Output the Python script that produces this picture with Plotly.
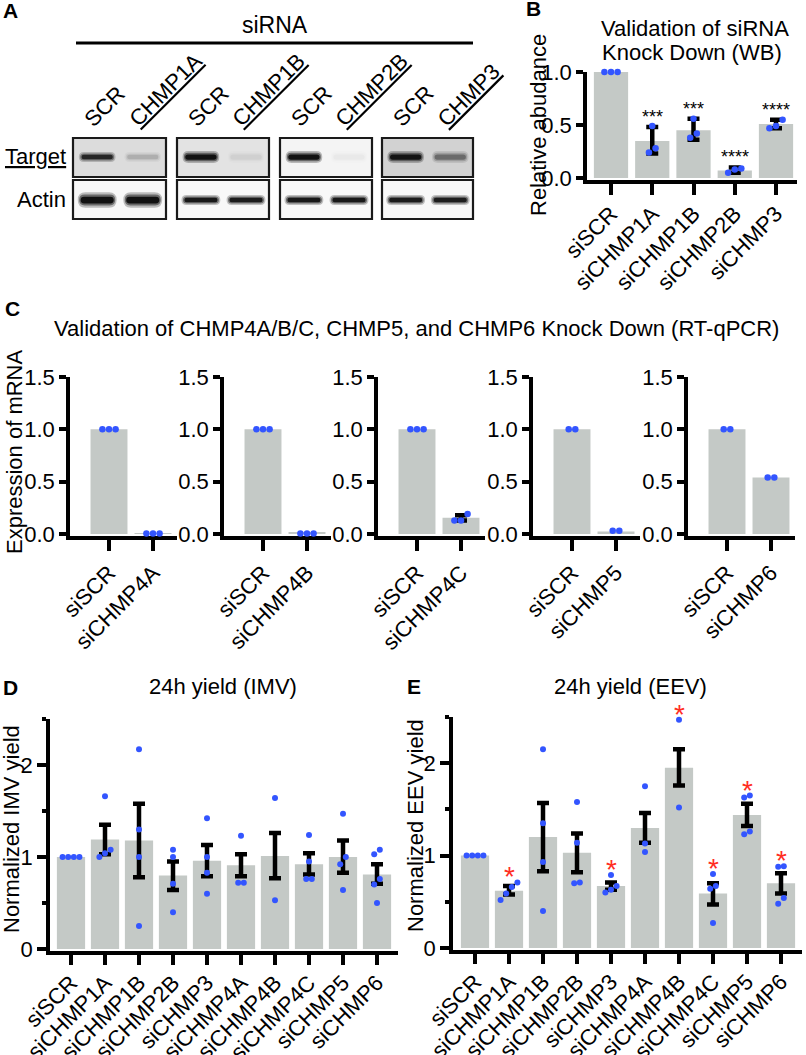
import plotly.graph_objects as go

W, H = 806, 1055
FONT = "Liberation Sans"
BAR = "#c4c9c6"
DOT = "#3355ff"
RED = "#ff2d1f"
FS = 22


def X(p):
    return p / W


def Y(p):
    return 1 - p / H


# ---------------- data ----------------
# Panel A (western blot)
blot_pairs = [("SCR", "CHMP1A"), ("SCR", "CHMP1B"), ("SCR", "CHMP2B"), ("SCR", "CHMP3")]
target_intensity = [[0.78, 0.14], [0.97, 0.05], [0.97, 0.03], [0.92, 0.38]]
actin_intensity = [[0.97, 0.97], [0.92, 0.9], [0.92, 0.92], [0.9, 0.88]]
membrane_shade = ["#dcdcdc", "#e3e3e3", "#f4f4f4", "#d2d2d2"]

# Panel B
b_cats = ["siSCR", "siCHMP1A", "siCHMP1B", "siCHMP2B", "siCHMP3"]
b_mean = [1.0, 0.35, 0.45, 0.07, 0.51]
b_pts = [[1.0, 1.0, 1.0], [0.49, 0.28, 0.24], [0.56, 0.42, 0.38], [0.09, 0.08, 0.05], [0.55, 0.49, 0.47]]
b_lo = [None, 0.23, 0.36, 0.05, 0.47]
b_hi = [None, 0.48, 0.56, 0.10, 0.55]
b_sig = ["", "***", "***", "****", "****"]

# Panel C
c_cats = [["siSCR", "siCHMP4A"], ["siSCR", "siCHMP4B"], ["siSCR", "siCHMP4C"],
          ["siSCR", "siCHMP5"], ["siSCR", "siCHMP6"]]
c_mean = [[1.0, 0.004], [1.0, 0.015], [1.0, 0.155], [1.0, 0.025], [1.0, 0.54]]
c_pts = [[[1.0, 1.0, 1.0], [0.005, 0.005, 0.005]],
         [[1.0, 1.0, 1.0], [0.005, 0.005, 0.005]],
         [[1.0, 1.0, 1.0], [0.19, 0.13, 0.13]],
         [[1.0, 1.0], [0.03, 0.03]],
         [[1.0, 1.0], [0.54, 0.54]]]
c_lo = [[None, None], [None, None], [None, 0.13], [None, None], [None, None]]
c_hi = [[None, None], [None, None], [None, 0.18], [None, None], [None, None]]

# Panels D and E
de_cats = ["siSCR", "siCHMP1A", "siCHMP1B", "siCHMP2B", "siCHMP3",
           "siCHMP4A", "siCHMP4B", "siCHMP4C", "siCHMP5", "siCHMP6"]
d_mean = [1.0, 1.19, 1.18, 0.80, 0.96, 0.91, 1.01, 0.92, 1.0, 0.81]
d_lo = [None, 1.03, 0.78, 0.64, 0.79, 0.79, 0.77, 0.81, 0.83, 0.71]
d_hi = [None, 1.35, 1.58, 0.95, 1.13, 1.03, 1.26, 1.04, 1.18, 0.92]
d_pts = [[1.0, 1.0, 1.0, 1.0],
         [1.66, 1.08, 1.04, 1.0],
         [2.17, 1.30, 1.0, 0.25],
         [1.08, 1.0, 0.71, 0.40],
         [1.42, 1.0, 0.83, 0.60],
         [1.23, 0.72, 0.72],
         [1.64, 0.53],
         [1.24, 0.95, 0.76, 0.76],
         [1.47, 1.0, 0.92, 0.64],
         [1.08, 1.03, 0.76, 0.70, 0.50]]

e_mean = [1.0, 0.62, 1.20, 1.03, 0.67, 1.30, 1.95, 0.59, 1.44, 0.70]
e_lo = [None, 0.58, 0.83, 0.82, 0.63, 1.14, 1.76, 0.47, 1.32, 0.59]
e_hi = [None, 0.67, 1.57, 1.24, 0.71, 1.46, 2.15, 0.70, 1.56, 0.81]
e_pts = [[1.0, 1.0, 1.0, 1.0],
         [0.71, 0.66, 0.59, 0.52],
         [2.15, 1.35, 0.93, 0.40],
         [1.58, 1.14, 0.70, 0.71],
         [0.79, 0.67, 0.63, 0.60],
         [1.75, 1.13, 1.04],
         [2.47, 1.52],
         [0.80, 0.67, 0.64, 0.27],
         [1.65, 1.63, 1.26, 1.23],
         [0.885, 0.88, 0.54, 0.48]]
e_sig = ["", "*", "", "", "*", "", "*", "*", "*", "*"]

# ---------------- helpers ----------------
fig = go.Figure()
layout = {}
annotations = []
shapes = []


def ax_names(k):
    if k == 1:
        return "x", "y", "xaxis", "yaxis"
    return f"x{k}", f"y{k}", f"xaxis{k}", f"yaxis{k}"


def add_axes(k, p_left, p_c0, step, p_right, p_zero, p_top, v_top, cats,
             yvals, ytext, xticklen=12, yticklen=7, minor=None, pad=1.5, standoff=0):
    xr, yr, xk, yk = ax_names(k)
    ppu = (p_zero - p_top) / v_top
    tickfont = dict(family=FONT, size=FS, color="black")
    layout[xk] = dict(domain=[X(p_left), X(p_right)],
                      range=[(p_left - p_c0) / step, (p_right - p_c0) / step],
                      anchor=yr, tickmode="array", tickvals=list(range(len(cats))),
                      ticktext=cats, tickangle=-45, ticks="outside", ticklen=xticklen,
                      tickwidth=3.5, tickcolor="black", showline=True, linewidth=3.5,
                      linecolor="black", showgrid=False, zeroline=False, automargin=False,
                      ticklabelstandoff=standoff,
                      tickfont=tickfont, layer="below traces", fixedrange=True)
    ydict = dict(domain=[Y(p_zero + pad), Y(p_top)], range=[-pad / ppu, v_top],
                 anchor=xr, tickmode="array", tickvals=yvals, ticktext=ytext,
                 ticks="outside", ticklen=yticklen, tickwidth=3.5, tickcolor="black",
                 showline=True, linewidth=3.5, linecolor="black", showgrid=False,
                 zeroline=False, tickfont=tickfont, layer="below traces",
                 automargin=False, fixedrange=True)
    if minor is not None:
        ydict["minor"] = dict(tickvals=minor, ticks="outside", ticklen=4,
                              tickwidth=3.5, tickcolor="black", showgrid=False)
    layout[yk] = ydict
    return xr, yr


def jitter(vals, spread, tol):
    order = sorted(range(len(vals)), key=lambda i: vals[i])
    offs = [0.0] * len(vals)
    groups, cur = [], [order[0]]
    for i in order[1:]:
        if abs(vals[i] - vals[cur[-1]]) <= tol:
            cur.append(i)
        else:
            groups.append(cur)
            cur = [i]
    groups.append(cur)
    for g in groups:
        n = len(g)
        for j, i in enumerate(g):
            offs[i] = (j - (n - 1) / 2) * spread
    return offs


def add_bars(xr, yr, means, lo, hi, pts, width, spread, tol, dot_size=6.5):
    idx = list(range(len(means)))
    fig.add_trace(go.Bar(x=idx, y=means, width=width, marker=dict(color=BAR, line=dict(width=0)),
                         xaxis=xr, yaxis=yr, showlegend=False, hoverinfo="skip"))
    ex = [i for i in idx if lo[i] is not None]
    if ex:
        fig.add_trace(go.Scatter(
            x=ex, y=[means[i] for i in ex], mode="markers",
            marker=dict(size=1, color="rgba(0,0,0,0)"),
            error_y=dict(type="data", symmetric=False,
                         array=[hi[i] - means[i] for i in ex],
                         arrayminus=[means[i] - lo[i] for i in ex],
                         color="black", thickness=4.5, width=6),
            xaxis=xr, yaxis=yr, showlegend=False, hoverinfo="skip", cliponaxis=False))
    px, py = [], []
    for i, p in enumerate(pts):
        offs = jitter(p, spread, tol)
        for v, o in zip(p, offs):
            px.append(i + o)
            py.append(v)
    fig.add_trace(go.Scatter(x=px, y=py, mode="markers",
                             marker=dict(size=dot_size, color=DOT, line=dict(width=0)),
                             xaxis=xr, yaxis=yr, showlegend=False, hoverinfo="skip",
                             cliponaxis=False))


def text(x, y, s, size=FS, bold=False, angle=0, xanchor="center", yanchor="middle",
         color="black"):
    annotations.append(dict(xref="paper", yref="paper", x=X(x), y=Y(y),
                            text=f"<b>{s}</b>" if bold else s, showarrow=False,
                            textangle=angle, xanchor=xanchor, yanchor=yanchor,
                            font=dict(family=FONT, size=size, color=color)))


# ---------------- Panel A ----------------
text(10, 11, "A", size=21, bold=True)
text(275, 25, "siRNA", size=23)
shapes.append(dict(type="line", xref="paper", yref="paper", x0=X(76), x1=X(473),
                   y0=Y(43), y1=Y(43), line=dict(color="black", width=3)))
box_x = [(73, 166), (177, 269), (280, 372), (382, 473)]
row_target = (138, 177)
row_actin = (180, 219)


def stadium(x0, x1, yc, h):
    r = h / 2
    xa, xb = X(x0), X(x1)
    ya, yb, ym = Y(yc - r), Y(yc + r), Y(yc)
    rx = X(r) - X(0)
    return (f"M {xa+rx},{ya} L {xb-rx},{ya} Q {xb},{ya} {xb},{ym} Q {xb},{yb} {xb-rx},{yb} "
            f"L {xa+rx},{yb} Q {xa},{yb} {xa},{ym} Q {xa},{ya} {xa+rx},{ya} Z")


def band(cx, cy, w, h, inten):
    for sc_w, sc_h, a in [(1.08, 1.7, 0.25), (1.0, 1.2, 0.45), (0.92, 0.75, 0.85)]:
        ww, hh = w * sc_w, h * sc_h
        shapes.append(dict(type="path", xref="paper", yref="paper",
                           path=stadium(cx - ww / 2, cx + ww / 2, cy, hh),
                           fillcolor=f"rgba(0,0,0,{a*inten:.3f})", line=dict(width=0),
                           layer="above"))


for k, (x0, x1) in enumerate(box_x):
    wbox = x1 - x0
    lanes = [x0 + 0.26 * wbox, x0 + 0.75 * wbox]
    shapes.append(dict(type="rect", xref="paper", yref="paper", x0=X(x0), x1=X(x1),
                       y0=Y(row_target[1]), y1=Y(row_target[0]), fillcolor=membrane_shade[k],
                       line=dict(color="#1a1a1a", width=2.2), layer="above"))
    shapes.append(dict(type="rect", xref="paper", yref="paper", x0=X(x0), x1=X(x1),
                       y0=Y(row_actin[1]), y1=Y(row_actin[0]), fillcolor="#f8f8f8",
                       line=dict(color="#1a1a1a", width=2.2), layer="above"))
    for j, lx in enumerate(lanes):
        band(lx, 157, 34, 7 if k else 6, target_intensity[k][j])
        band(lx, 200, 36, 9 if k == 0 else 6, actin_intensity[k][j])
    text(lanes[0] - 21, 134, blot_pairs[k][0], size=22, angle=-45,
         xanchor="left", yanchor="bottom")
    text(lanes[1] - 21, 134, f"<u>{blot_pairs[k][1]}</u>", size=22, angle=-45,
         xanchor="left", yanchor="bottom")
text(68, 157, "<u>Target</u>", size=22, xanchor="right")
text(68, 200, "Actin", size=22, xanchor="right")

# ---------------- Panel B ----------------
text(533, 9, "B", size=21, bold=True)
text(695, 28, "Validation of siRNA", size=22)
text(692, 53, "Knock Down (WB)", size=22)
text(538, 125, "Relative abudance", size=22, angle=-90)
xr, yr = add_axes(1, 587, 611, 41.25, 797, 178, 72, 1.0, b_cats,
                  [0, 0.5, 1.0], ["0.0", "0.5", "1.0"], xticklen=12, yticklen=7,
                  standoff=-3)
add_bars(xr, yr, b_mean, b_lo, b_hi, b_pts, 0.83, 0.16, 0.065)
for i, s in enumerate(b_sig):
    if s:
        annotations.append(dict(xref=xr, yref=yr, x=i, y=b_hi[i], text=s, showarrow=False,
                                xanchor="center", yanchor="bottom", yshift=-2,
                                font=dict(family=FONT, size=18, color="black")))

# ---------------- Panel C ----------------
text(12, 308, "C", size=21, bold=True)
text(416, 328, "Validation of CHMP4A/B/C, CHMP5, and CHMP6 Knock Down (RT-qPCR)", size=22)
text(14, 452, "Expression of mRNA", size=22, angle=-90)
c_left = [70, 224, 378, 533, 688]
for g in range(5):
    L0 = c_left[g]
    xr, yr = add_axes(2 + g, L0, L0 + 39, 44, L0 + 107, 534, 377, 1.5, c_cats[g],
                      [0, 0.5, 1.0, 1.5], ["0.0", "0.5", "1.0", "1.5"],
                      xticklen=12, yticklen=7)
    add_bars(xr, yr, c_mean[g], c_lo[g], c_hi[g], c_pts[g], 0.84, 0.15, 0.07)

# ---------------- Panel D ----------------
text(10, 687, "D", size=21, bold=True)
text(223, 686, "24h yield (IMV)", size=22)
text(11, 829, "Normalized IMV yield", size=22, angle=-90)
xr, yr = add_axes(7, 50, 71, 34, 398, 949, 719, 2.5, de_cats,
                  [0, 1, 2], ["0", "1", "2"], xticklen=11, yticklen=9,
                  minor=[0.5, 1.5, 2.5], standoff=-4)
add_bars(xr, yr, d_mean, d_lo, d_hi, d_pts, 0.83, 0.165, 0.08, dot_size=6)

# ---------------- Panel E ----------------
text(414, 686, "E", size=21, bold=True)
text(630, 686, "24h yield (EEV)", size=22)
text(415, 826, "Normalized EEV yield", size=22, angle=-90)
xr, yr = add_axes(8, 453, 475, 34, 802, 948, 717, 2.5, de_cats,
                  [0, 1, 2], ["0", "1", "2"], xticklen=11, yticklen=9,
                  minor=[0.5, 1.5, 2.5], standoff=-4)
add_bars(xr, yr, e_mean, e_lo, e_hi, e_pts, 0.83, 0.165, 0.08, dot_size=6)
for i, s in enumerate(e_sig):
    if s:
        top = max(e_pts[i] + ([e_hi[i]] if e_hi[i] is not None else []))
        annotations.append(dict(xref=xr, yref=yr, x=i, y=top, text=s, showarrow=False,
                                xanchor="center", yanchor="bottom", yshift=-12,
                                font=dict(family=FONT, size=28, color=RED)))

layout.update(dict(template="none", width=W, height=H,
                   margin=dict(l=0, r=0, t=0, b=0, pad=0, autoexpand=False),
                   paper_bgcolor="white", plot_bgcolor="rgba(0,0,0,0)",
                   showlegend=False, barmode="overlay",
                   font=dict(family=FONT, size=FS, color="black"),
                   annotations=annotations, shapes=shapes))
fig.update_layout(**layout)
fig.write_html("out.html", config={"displayModeBar": False},
               post_script="document.body.style.margin='0px';")
